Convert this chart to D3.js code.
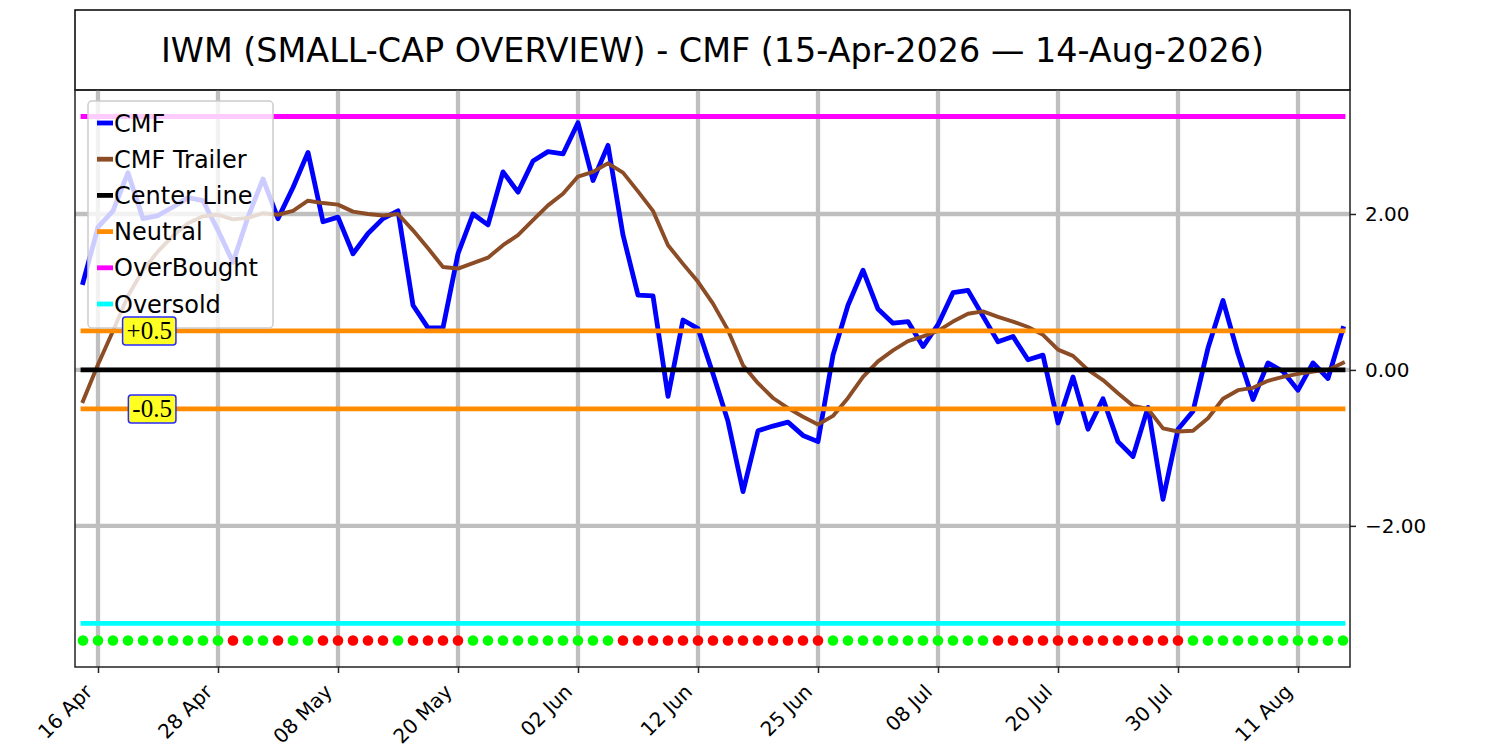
<!DOCTYPE html>
<html>
<head>
<meta charset="utf-8">
<script src="https://cdn.jsdelivr.net/npm/d3@7"></script>
<style>
body { margin: 0; background: #fff; }
svg text { font-family: "DejaVu Sans", sans-serif; }
</style>
</head>
<body>
<div id="chart"></div>
<script>
// trading calendar
var startDate = "2026-04-15", endDate = "2026-08-14";
var holidays = ["2026-05-25", "2026-06-19", "2026-07-03"];

// CMF values, one per trading day
var cmf = [
    1.12, 1.83, 2.04, 2.53, 1.94, 1.98, 2.09, 2.21, 2.17, 1.79,
    1.38, 1.96, 2.45, 1.94, 2.34, 2.79, 1.90, 1.96, 1.49, 1.75,
    1.94, 2.04, 0.83, 0.54, 0.54, 1.49, 2.00, 1.86, 2.54, 2.28,
    2.68, 2.80, 2.77, 3.17, 2.43, 2.88, 1.73, 0.96, 0.95, -0.34,
    0.64, 0.53, -0.05, -0.66, -1.56, -0.78, -0.72, -0.67, -0.84, -0.92,
    0.19, 0.83, 1.28, 0.78, 0.60, 0.62, 0.30, 0.58, 0.99, 1.02,
    0.69, 0.36, 0.43, 0.13, 0.19, -0.68, -0.09, -0.76, -0.37, -0.92,
    -1.11, -0.48, -1.66, -0.76, -0.53, 0.28, 0.89, 0.21, -0.38, 0.09,
    -0.02, -0.26, 0.09, -0.11, 0.53
];

// CMF trailer (smoothed)
var trailer = [
    -0.40, 0.07, 0.50, 0.95, 1.28, 1.52, 1.72, 1.88, 1.97, 1.99,
    1.93, 1.95, 2.01, 1.99, 2.04, 2.17, 2.14, 2.12, 2.03, 2.00,
    1.98, 2.00, 1.79, 1.56, 1.32, 1.30, 1.37, 1.44, 1.60, 1.73,
    1.92, 2.11, 2.26, 2.48, 2.54, 2.65, 2.53, 2.29, 2.04, 1.60,
    1.36, 1.13, 0.85, 0.51, 0.06, -0.17, -0.36, -0.49, -0.60, -0.70,
    -0.59, -0.36, -0.09, 0.11, 0.25, 0.37, 0.43, 0.50, 0.62, 0.72,
    0.75, 0.68, 0.62, 0.55, 0.45, 0.26, 0.18, 0.00, -0.13, -0.30,
    -0.46, -0.50, -0.75, -0.79, -0.78, -0.62, -0.37, -0.26, -0.23, -0.14,
    -0.09, -0.05, -0.02, 0.00, 0.09
];

// trend dots: 1 = green, 0 = red
var trend = [
    1, 1, 1, 1, 1, 1, 1, 1, 1, 1,
    0, 1, 1, 0, 1, 1, 0, 0, 0, 0,
    0, 1, 0, 0, 0, 0, 1, 1, 1, 1,
    1, 1, 1, 1, 1, 1, 0, 0, 0, 0,
    0, 0, 0, 0, 0, 0, 0, 0, 0, 0,
    1, 1, 1, 1, 1, 1, 1, 1, 1, 1,
    1, 0, 0, 0, 0, 0, 0, 0, 0, 0,
    0, 0, 0, 0, 1, 1, 1, 1, 1, 1,
    1, 1, 1, 1, 1
];

var centerLevel = 0;
var neutralLevels = [0.5, -0.5];
var overBought = 3.25, overSold = -3.25;
var dotLevel = -3.47;
var yTicks = [-2, 0, 2];

var width = 1500, height = 750;
var margin = { left: 75, right: 150, top: 90, bottom: 83 };

var parse = d3.timeParse("%Y-%m-%d"), fmtKey = d3.timeFormat("%Y-%m-%d");
var dates = d3.timeDay.range(parse(startDate), d3.timeDay.offset(parse(endDate), 1))
    .filter(function (d) { return d.getDay() != 0 && d.getDay() != 6 && holidays.indexOf(fmtKey(d)) == -1; });

var svg = d3.select("#chart").append("svg")
    .attr("width", width)
    .attr("height", height);

var x = d3.scaleLinear()
    .domain([-0.533, dates.length - 1 + 0.467])
    .range([margin.left, width - margin.right]);

var y = d3.scaleLinear()
    .domain([-3.81, 3.59])
    .range([height - margin.bottom, margin.top]);

var plotW = width - margin.left - margin.right;

// title box
svg.append("rect")
    .attr("x", margin.left).attr("y", 10)
    .attr("width", plotW).attr("height", margin.top - 10)
    .attr("fill", "none").attr("stroke", "#000").attr("stroke-width", 1.5);

svg.append("text")
    .attr("x", margin.left + plotW / 2)
    .attr("y", 62)
    .attr("text-anchor", "middle")
    .style("font-size", "33.4px")
    .text("IWM (SMALL-CAP OVERVIEW) - CMF (15-Apr-2026 \u2014 14-Aug-2026)");

var tickIdx = d3.range(1, dates.length, 8);

// grid
var grid = svg.append("g").attr("class", "grid")
    .attr("stroke", "#bfbfbf").attr("stroke-width", 4.3);
grid.selectAll(".vg").data(tickIdx).enter().append("line")
    .attr("x1", function (d) { return x(d); }).attr("x2", function (d) { return x(d); })
    .attr("y1", margin.top).attr("y2", height - margin.bottom);
grid.selectAll(".hg").data(yTicks).enter().append("line")
    .attr("x1", margin.left).attr("x2", width - margin.right)
    .attr("y1", function (d) { return y(d); }).attr("y2", function (d) { return y(d); });

var line = d3.line()
    .x(function (d, i) { return x(i); })
    .y(function (d) { return y(d); });

function hline(v, color) {
    svg.append("line")
        .attr("x1", x(0)).attr("x2", x(dates.length - 1))
        .attr("y1", y(v)).attr("y2", y(v))
        .attr("stroke", color).attr("stroke-width", 4.8)
        .attr("stroke-linecap", "square");
}

svg.append("path")
    .datum(cmf)
    .attr("d", line)
    .attr("fill", "none").attr("stroke", "#0000ff").attr("stroke-width", 4.8)
    .attr("stroke-linejoin", "round").attr("stroke-linecap", "square");

svg.append("path")
    .datum(trailer)
    .attr("d", line)
    .attr("fill", "none").attr("stroke", "#8b4c26").attr("stroke-width", 3.9)
    .attr("stroke-linejoin", "round").attr("stroke-linecap", "square");

hline(centerLevel, "#000000");
neutralLevels.forEach(function (v) { hline(v, "#ff8c00"); });
hline(overBought, "#ff00ff");
hline(overSold, "#00ffff");

// trend dots
svg.append("g").selectAll("circle")
    .data(trend).enter().append("circle")
    .attr("cx", function (d, i) { return x(i); })
    .attr("cy", y(dotLevel))
    .attr("r", 5.3)
    .attr("fill", function (d) { return d ? "#00ff00" : "#ff0000"; });

// frame
svg.append("rect")
    .attr("x", margin.left).attr("y", margin.top)
    .attr("width", plotW).attr("height", height - margin.top - margin.bottom)
    .attr("fill", "none").attr("stroke", "#222").attr("stroke-width", 1.5);

// axes
var fmtDate = d3.timeFormat("%d %b");
var xAxis = d3.axisBottom(x)
    .tickValues(tickIdx)
    .tickSize(6)
    .tickFormat(function (d) { return fmtDate(dates[d]); });

var gx = svg.append("g")
    .attr("transform", "translate(0," + (height - margin.bottom) + ")")
    .call(xAxis);
gx.select(".domain").remove();
gx.selectAll(".tick line").attr("stroke", "#222").attr("stroke-width", 1.5);
gx.selectAll(".tick text")
    .style("font-size", "20px")
    .attr("fill", "#000")
    .attr("text-anchor", "end")
    .attr("dy", null)
    .attr("y", 0)
    .attr("transform", "translate(-5,26) rotate(-45)");

var yAxis = d3.axisRight(y)
    .tickValues(yTicks)
    .tickSize(6)
    .tickPadding(9)
    .tickFormat(function (d) { return d3.format(".2f")(d).replace("-", "\u2212"); });

var gy = svg.append("g")
    .attr("transform", "translate(" + (width - margin.right) + ",0)")
    .call(yAxis);
gy.select(".domain").remove();
gy.selectAll(".tick line").attr("stroke", "#222").attr("stroke-width", 1.5);
gy.selectAll(".tick text").style("font-size", "20px").attr("fill", "#000");

// legend
var legendItems = ["CMF", "CMF Trailer", "Center Line", "Neutral", "OverBought", "Oversold"];
var legendColors = ["#0000ff", "#8b4c26", "#000000", "#ff8c00", "#ff00ff", "#00ffff"];

var legend = svg.append("g").attr("class", "legend");
legend.append("rect")
    .attr("x", 88).attr("y", 101)
    .attr("width", 185).attr("height", 227)
    .attr("rx", 4)
    .attr("fill", "#fff").attr("fill-opacity", 0.8)
    .attr("stroke", "#cccccc").attr("stroke-width", 1.5);

var rows = legend.selectAll(".row").data(legendItems).enter().append("g")
    .attr("transform", function (d, i) { return "translate(0," + (123 + i * 36.2) + ")"; });
rows.append("line")
    .attr("x1", 97).attr("x2", 113)
    .attr("stroke", function (d, i) { return legendColors[i]; })
    .attr("stroke-width", 4.8);
rows.append("text")
    .attr("x", 114)
    .attr("dy", "0.36em")
    .style("font-size", "24px")
    .text(function (d) { return d; });

// neutral labels (drawn above the legend)
neutralLevels.forEach(function (v) {
    var g = svg.append("g");
    var t = g.append("text")
        .attr("x", x(5.93)).attr("y", y(v))
        .attr("dy", "0.34em")
        .attr("text-anchor", "end")
        .style("font-family", "'Liberation Serif', serif")
        .style("font-size", "25px")
        .text(v > 0 ? "+" + v : String(v));
    var b = t.node().getBBox();
    g.insert("rect", "text")
        .attr("x", b.x - 4).attr("y", y(v) - 14)
        .attr("width", b.width + 8).attr("height", 28)
        .attr("rx", 3)
        .attr("fill", "#ffff22").attr("stroke", "#2a2aff").attr("stroke-width", 1.5);
});
</script>
</body>
</html>
